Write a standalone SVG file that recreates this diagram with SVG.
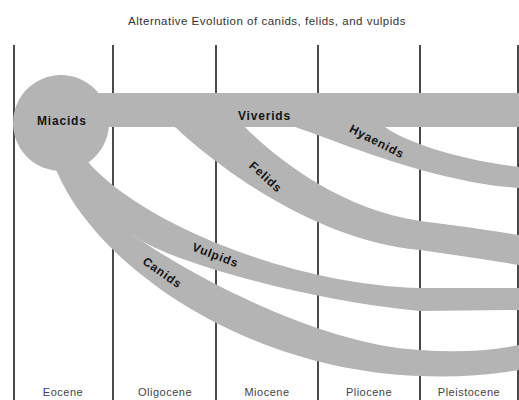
<svg xmlns="http://www.w3.org/2000/svg" width="519" height="400" viewBox="0 0 519 400">
  <style>
    .band { fill: #b4b4b4; stroke: none; }
    .grid { stroke: #4a4a4a; stroke-width: 2; }
    .lbl { font-family: "Liberation Sans", Arial, sans-serif; font-weight: bold; font-size: 12px; letter-spacing: 0.8px; fill: #151515; }
    .epoch { font-family: "Liberation Sans", Arial, sans-serif; font-size: 11px; letter-spacing: 0.5px; fill: #444; text-anchor: middle; }
    .title { font-family: "Liberation Sans", Arial, sans-serif; font-size: 11.5px; letter-spacing: 0.5px; fill: #333; text-anchor: middle; }
  </style>
  <rect width="519" height="400" fill="#ffffff"/>
  <text class="title" x="267" y="25">Alternative Evolution of canids, felids, and vulpids</text>

  <g id="timescale">
    <line class="grid" x1="14" y1="45" x2="14" y2="400"/>
    <line class="grid" x1="113" y1="45" x2="113" y2="400"/>
    <line class="grid" x1="216" y1="45" x2="216" y2="400"/>
    <line class="grid" x1="318" y1="45" x2="318" y2="400"/>
    <line class="grid" x1="420" y1="45" x2="420" y2="400"/>
    <line class="grid" x1="518" y1="45" x2="518" y2="400"/>
    <text class="epoch" x="63" y="396">Eocene</text>
    <text class="epoch" x="165" y="396">Oligocene</text>
    <text class="epoch" x="267" y="396">Miocene</text>
    <text class="epoch" x="369" y="396">Pliocene</text>
    <text class="epoch" x="469" y="396">Pleistocene</text>
  </g>

  <g id="connectors"></g>

  <g id="viverids">
    <rect class="band" x="90" y="93" width="429" height="34"/>
    <text class="lbl" x="238" y="120">Viverids</text>
  </g>

  <g id="felids">
    <path class="band" d="M165,120 L175,127 C210,160 310,240 420,250 Q470,257 519,265 L519,235 Q470,227 420,221 C340,210 272,155 245,127 L245,120 Z"/>
    <text class="lbl" transform="translate(263,180) rotate(42)" text-anchor="middle">Felids</text>
  </g>

  <g id="hyaenids">
    <path class="band" d="M290,120 L295,127 C335,140 430,182 519,188 L519,167 C460,160 405,142 385,127 L385,120 Z"/>
    <text class="lbl" transform="translate(375,145) rotate(27)" text-anchor="middle">Hyaenids</text>
  </g>

  <g id="canids">
    <path class="band" d="M50,150 L57,172 C95,262 240,370 420,376 Q470,378 519,370 L519,345 Q475,354 420,350 C320,345 190,275 133,235 L75,160 Z"/>
    <text class="lbl" transform="translate(160,276) rotate(35)" text-anchor="middle">Canids</text>
  </g>

  <g id="vulpids">
    <path class="band" d="M70,150 L88,162 C140,222 290,285 420,288 L519,288 L519,310 L420,311 C300,300 160,258 133,235 L60,160 Z"/>
    <text class="lbl" transform="translate(214,259) rotate(21)" text-anchor="middle">Vulpids</text>
  </g>

  <g id="miacids">
    <circle class="band" cx="61" cy="123" r="48"/>
    <text class="lbl" x="37" y="125">Miacids</text>
  </g>
</svg>
